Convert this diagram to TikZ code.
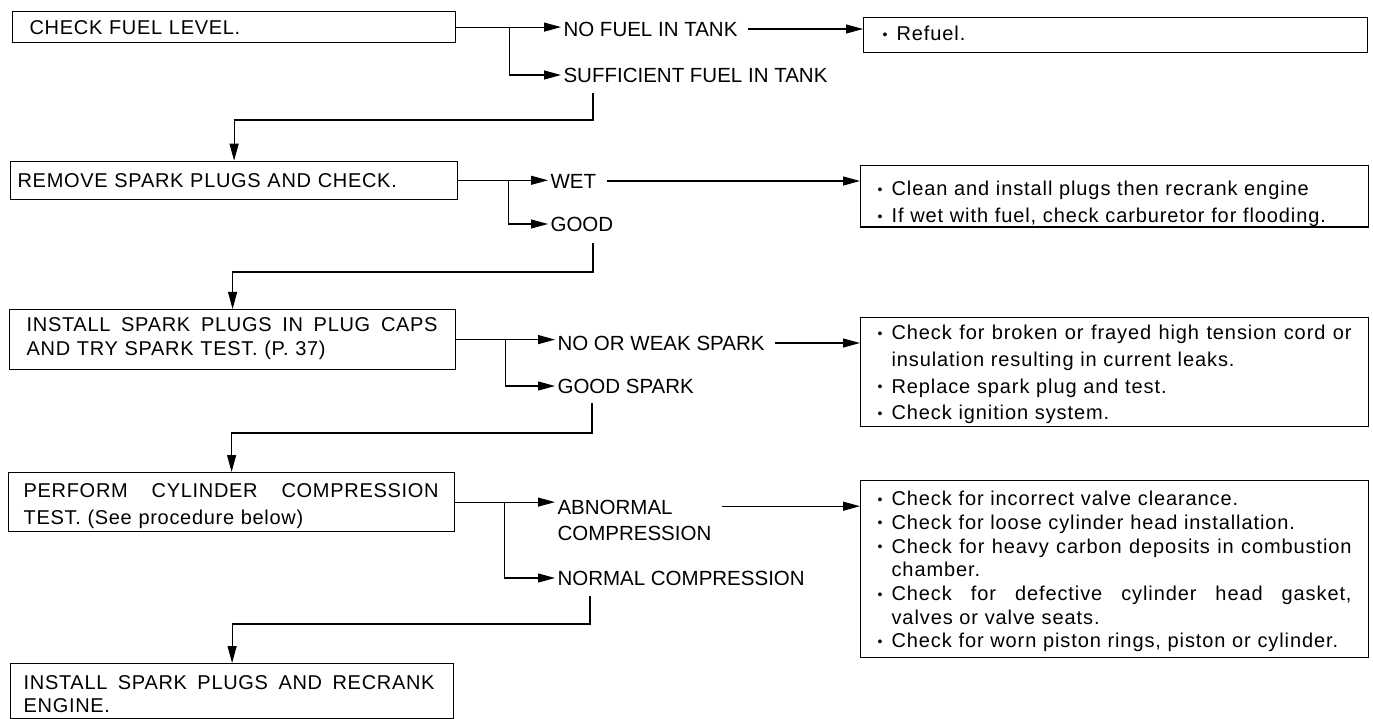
\documentclass[tikz,border=0pt]{standalone}
\usepackage{fontspec}
\setmainfont{Liberation Sans}
\newfontfamily\trackfont[LetterSpace=3.5]{Liberation Sans}
\newfontfamily\rtrackfont[LetterSpace=4.5]{Liberation Sans}
\usetikzlibrary{arrows.meta}
\newcommand\bxf[1]{\trackfont\fontsize{20}{#1}\selectfont}
\newcommand\rxf[1]{\rtrackfont\fontsize{20}{#1}\selectfont}
\newcommand\tp[1]{\rule{0pt}{#1pt}}
\newcommand\bt[1]{\rule[-#1pt]{0pt}{#1pt}}
\newcommand\jl[2]{\hbox to #1pt{#2}}
\newcommand\bul{\makebox[14pt][l]{\raisebox{1.5pt}{\fontsize{14}{14}\selectfont •}}}
\begin{document}
\begin{tikzpicture}[x=1pt,y=-1pt,
  line width=1.1pt,
  box/.style={draw, line width=1.2pt, anchor=north west, inner ysep=0pt, align=left},
  lbl/.style={anchor=west, inner xsep=2pt, inner ysep=0pt, font=\fontsize{20.5}{26}\selectfont},
  arr/.style={-{Triangle[length=17pt,width=9pt]}}]
\fill[white] (0,0) rectangle (1373,719);
\useasboundingbox (0,0) rectangle (1373,719);

% main column
\node[box, inner xsep=17pt, text width=409pt, font=\bxf{24}] (b1) at (12,11)
  {\tp{22.5}CHECK FUEL LEVEL.\bt{8.5}};
\node[box, inner xsep=7pt, text width=433pt, font=\bxf{24}] (b2) at (10,160.7)
  {\tp{26}REMOVE SPARK PLUGS AND CHECK.\bt{12}};
\node[box, inner xsep=17pt, text width=412pt, font=\bxf{24}] (b3) at (9,309)
  {\tp{22.15}\jl{411}{INSTALL\hfill SPARK\hfill PLUGS\hfill IN\hfill PLUG\hfill CAPS}\\AND TRY SPARK TEST. (P. 37)\bt{13.85}};
\node[box, inner xsep=15pt, text width=416pt, font=\bxf{27}] (b4) at (8,472)
  {\tp{25.15}\jl{415}{PERFORM\hfill CYLINDER\hfill COMPRESSION}\\TEST. (See procedure below)\bt{6.85}};
\node[box, inner xsep=13pt, text width=417pt, font=\bxf{23}] (b5) at (10,663)
  {\tp{26.15}\jl{411}{INSTALL\hfill SPARK\hfill PLUGS\hfill AND\hfill RECRANK}\\ENGINE.\bt{5.85}};

% right column
\node[box, inner xsep=19pt, text width=466pt, font=\rxf{24}] (r1) at (863,17.3)
  {\tp{23}\bul Refuel.\bt{11.4}};
\node[box, inner xsep=17pt, text width=474pt, font=\rxf{27}] (r2) at (860,165)
  {\tp{30.15}\bul Clean and install plugs then recrank engine\\\bul If wet with fuel, check carburetor for flooding.\bt{4.2}};
\node[box, inner xsep=17pt, text width=474pt, font=\rxf{26.7}] (r3) at (860,316.7)
  {\tp{22.45}\bul\jl{460}{Check\hfill for\hfill broken\hfill or\hfill frayed\hfill high\hfill tension\hfill cord\hfill or}\\
   \hspace*{14pt}insulation resulting in current leaks.\\
   \bul Replace spark plug and test.\\
   \bul Check ignition system.\bt{6.85}};
\node[box, inner xsep=17pt, text width=474pt, font=\rxf{23.7}] (r4) at (860,480)
  {\tp{25.15}\bul Check for incorrect valve clearance.\\
   \bul Check for loose cylinder head installation.\\
   \bul\jl{460}{Check\hfill for\hfill heavy\hfill carbon\hfill deposits\hfill in\hfill combustion}\\
   \hspace*{14pt}chamber.\\
   \bul\jl{460}{Check\hfill for\hfill defective\hfill cylinder\hfill head\hfill gasket,}\\
   \hspace*{14pt}valves or valve seats.\\
   \bul Check for worn piston rings, piston or cylinder.\bt{9.65}};

% branch labels
\node[lbl] (nofuel) at (561,29) {NO FUEL IN TANK};
\node[lbl] (suff) at (561,75) {SUFFICIENT FUEL IN TANK};
\node[lbl] (wet) at (548,181) {WET};
\node[lbl] (good) at (548,224) {GOOD};
\node[lbl] (noweak) at (555,343) {NO OR WEAK SPARK};
\node[lbl] (goodsp) at (555,386) {GOOD SPARK};
\node[lbl, anchor=north west, align=left] (abn) at (555,499.7) {ABNORMAL\\COMPRESSION};
\node[lbl] (normal) at (555,578) {NORMAL COMPRESSION};

% row 1
\path (b1.east) ++(53,0) coordinate (br1);
\draw (b1.east) -- (br1);
\draw[arr] (br1) -- (br1 -| nofuel.west);
\draw[arr] (br1) |- (suff.west);
\path (nofuel.east) ++(8,0) coordinate (n1);
\draw[arr] (n1) -- (n1 -| r1.west);
\coordinate (s1) at (593,93);
\draw[arr] (s1) -- ++(0,27) -| (b2.north);

% row 2
\path (b2.east) ++(50,0) coordinate (br2);
\draw (b2.east) -- (br2);
\draw[arr] (br2) -- (br2 -| wet.west);
\draw[arr] (br2) |- (good.west);
\path (wet.east) ++(8,0) coordinate (n2);
\draw[arr] (n2) -- (n2 -| r2.west);
\coordinate (s2) at (593,243);
\draw[arr] (s2) -- ++(0,29) -| (b3.north);

% row 3
\path (b3.east) ++(49,0) coordinate (br3);
\draw (b3.east) -- (br3);
\draw[arr] (br3) -- (br3 -| noweak.west);
\draw[arr] (br3) |- (goodsp.west);
\path (noweak.east) ++(8,0) coordinate (n3);
\draw[arr] (n3) -- (n3 -| r3.west);
\coordinate (s3) at (592,403);
\draw[arr] (s3) -- ++(0,30) -| (b4.north);

% row 4
\path (b4.east) ++(49,0) coordinate (br4);
\draw (b4.east) -- (br4);
\draw[arr] (br4) -- (br4 -| abn.west);
\draw[arr] (br4) |- (normal.west);
\path (abn.north east) ++(8,6.5) coordinate (n4);
\draw[arr] (n4) -- (n4 -| r4.west);
\coordinate (s4) at (590,596);
\draw[arr] (s4) -- ++(0,28) -| (b5.north);
\end{tikzpicture}
\end{document}
